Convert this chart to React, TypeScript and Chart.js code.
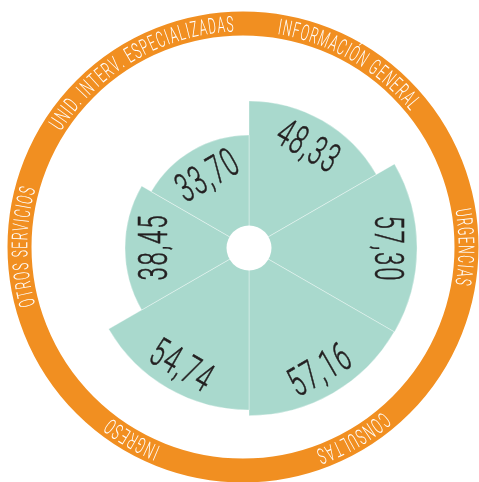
import React, { useEffect, useRef } from 'react';
import { Chart, registerables } from 'chart.js';

Chart.register(...registerables);

const categories = [
  'INFORMACIÓN GENERAL',
  'URGENCIAS',
  'CONSULTAS',
  'INGRESO',
  'OTROS SERVICIOS',
  'UNID. INTERV. ESPECIALIZADAS',
];
const values = [48.33, 57.3, 57.16, 54.74, 38.45, 33.7];
const valueLabels = ['48,33', '57,30', '57,16', '54,74', '38,45', '33,70'];
const scaleMin = -14.6;
const scaleMax = 91.5;

const FILL = '#a9d9cd';
const ORANGE = '#f18f21';
const TEXT = '#231f20';

const RING_CX = 243;
const RING_CY = 247;
const RING_R = 223.5;
const RING_W = 24;

function normAngle(a: number) {
  while (a > Math.PI) a -= Math.PI * 2;
  while (a <= -Math.PI) a += Math.PI * 2;
  return a;
}

const overlayPlugin = {
  id: 'overlay',
  afterDatasetsDraw(chart: any) {
    const ctx: any = chart.ctx;
    const scale = chart.scales.r;
    const cx = scale.xCenter;
    const cy = scale.yCenter;
    const meta = chart.getDatasetMeta(0);

    ctx.save();
    // center hole
    ctx.fillStyle = '#ffffff';
    ctx.beginPath();
    ctx.arc(cx, cy, 22.5, 0, Math.PI * 2);
    ctx.fill();

    // value labels
    const numSize = 40;
    const numSx = 0.6;
    ctx.font = `300 ${numSize}px Roboto`;
    ctx.fillStyle = TEXT;
    ctx.textAlign = 'center';
    ctx.textBaseline = 'alphabetic';
    ctx.letterSpacing = '3px';
    meta.data.forEach((arc: any, i: number) => {
      const p = arc.getProps(['startAngle', 'endAngle', 'outerRadius'], true);
      const mid = (p.startAngle + p.endAngle) / 2;
      const r = p.outerRadius - 28;
      const x = cx + Math.cos(mid) * r;
      const y = cy + Math.sin(mid) * r;
      let rot = normAngle(mid + Math.PI / 2);
      if (rot > Math.PI / 2 + 0.01) rot -= Math.PI;
      else if (rot < -Math.PI / 2 - 0.01) rot += Math.PI;
      ctx.save();
      ctx.translate(x, y);
      ctx.rotate(rot);
      ctx.scale(numSx, 1);
      ctx.lineWidth = 0.6;
      ctx.strokeStyle = TEXT;
      ctx.fillText(valueLabels[i], 1.5, numSize * 0.355);
      ctx.strokeText(valueLabels[i], 1.5, numSize * 0.355);
      ctx.restore();
    });
    ctx.letterSpacing = '0px';

    // orange ring
    ctx.strokeStyle = ORANGE;
    ctx.lineWidth = RING_W;
    ctx.beginPath();
    ctx.arc(RING_CX, RING_CY, RING_R, 0, Math.PI * 2);
    ctx.stroke();

    // ring labels
    const ringSize = 22;
    const ringSx = 0.55;
    const spacing = 1.5;
    ctx.font = `300 ${ringSize}px Roboto`;
    ctx.fillStyle = '#ffffff';
    categories.forEach((label, i) => {
      const n = categories.length;
      const midDeg = (360 / n) * (i + 0.5);
      const midRad = (midDeg * Math.PI) / 180;
      const chars = Array.from(label);
      const widths = chars.map((c) => ctx.measureText(c).width * ringSx + spacing);
      const total = widths.reduce((a: number, b: number) => a + b, 0) - spacing;
      let phi = midRad - total / (2 * RING_R);
      chars.forEach((c, k) => {
        const w = widths[k];
        const pc = phi + (w - spacing) / 2 / RING_R;
        const x = RING_CX + RING_R * Math.sin(pc);
        const y = RING_CY - RING_R * Math.cos(pc);
        ctx.save();
        ctx.translate(x, y);
        ctx.rotate(pc);
        ctx.scale(ringSx, 1);
        ctx.fillText(c, 0, ringSize * 0.355);
        ctx.restore();
        phi += w / RING_R;
      });
    });
    ctx.restore();
  },
};

export default function App() {
  const ref = useRef<HTMLCanvasElement | null>(null);
  useEffect(() => {
    if (!ref.current) return;
    const chart = new Chart(ref.current, {
      type: 'polarArea',
      data: {
        labels: categories,
        datasets: [
          {
            data: values,
            backgroundColor: FILL,
            borderColor: 'rgba(255,255,255,0.35)',
            borderWidth: 1,
          },
        ],
      },
      options: {
        responsive: false,
        animation: false,
        devicePixelRatio: 1,
        layout: { padding: 0 },
        plugins: {
          legend: { display: false },
          tooltip: { enabled: false },
        },
        scales: {
          r: {
            min: scaleMin,
            max: scaleMax,
            bounds: 'data',
            startAngle: 0,
            ticks: { display: false },
            grid: { display: false },
            angleLines: { display: false },
            pointLabels: { display: false },
          },
        },
      },
      plugins: [overlayPlugin],
    } as any);
    return () => chart.destroy();
  }, []);
  return (
    <div
      style={{
        position: 'fixed',
        left: 0,
        top: 0,
        width: 479,
        height: 482,
        overflow: 'hidden',
        background: '#fff',
      }}
    >
      <canvas ref={ref} width={498} height={497} style={{ display: 'block' }} />
    </div>
  );
}
